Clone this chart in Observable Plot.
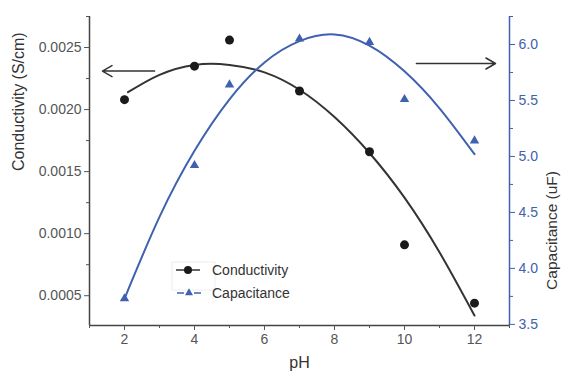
<!DOCTYPE html>
<html><head><meta charset="utf-8">
<script src="https://cdn.jsdelivr.net/npm/d3@7"></script>
<script src="https://cdn.jsdelivr.net/npm/@observablehq/plot@0.6"></script>
<style>
body{margin:0;background:#fff;}
#wrap{position:relative;width:561px;height:375px;font-family:"Liberation Sans",Arial,sans-serif;}
#wrap svg{position:absolute;left:0;top:0;}
</style></head><body><div id="wrap"></div>
<script>
// measured data
const pH = [2, 4, 5, 7, 9, 10, 12];
const conductivity = [0.00208, 0.00235, 0.00256, 0.00215, 0.00166, 0.00091, 0.00044];
const capacitance = [3.73, 4.92, 5.64, 6.05, 6.02, 5.51, 5.14];
// fitted curves
const condFitPH = [2.1, 3, 4, 5, 6, 7, 8, 9, 10, 11, 12];
const condFit = [0.00214, 0.00228, 0.00236, 0.00236, 0.00230, 0.00216, 0.00194, 0.00165, 0.00129, 0.00085, 0.00034];
const capFitPH = [2, 3, 4, 5, 6, 7, 8, 9, 10, 11, 12];
const capFit = [3.73, 4.46, 5.05, 5.51, 5.84, 6.03, 6.09, 5.99, 5.76, 5.43, 5.02];
// axes
const xDomain = [1, 13];
const xTicks = [2, 4, 6, 8, 10, 12];
const xMinor = [1, 3, 5, 7, 9, 11, 13];
const condDomain = [0.00026, 0.00275];
const condTicks = [0.0005, 0.0010, 0.0015, 0.0020, 0.0025];
const condMinor = [0.00075, 0.00125, 0.00175, 0.00225, 0.00275];
const capDomain = [3.49, 6.25];
const capTicks = [3.5, 4.0, 4.5, 5.0, 5.5, 6.0];
const capMinor = [3.75, 4.25, 4.75, 5.25, 5.75, 6.25];
// annotation arrows (data coordinates)
const leftArrow = [{x1: 2.86, x2: 1.37, y: 0.00231}];
const rightArrow = [{x1: 10.34, x2: 12.6, y: 5.83}];
const seriesNames = ["Conductivity", "Capacitance"];

const blue = "#3f61b0";
const dark = "#333";
const font = "'Liberation Sans', Arial, sans-serif";
const common = {
  width: 561, height: 375,
  marginTop: 16, marginBottom: 50, marginLeft: 89, marginRight: 52,
  style: {background: "transparent", fontFamily: font, overflow: "visible"}
};

const p1 = Plot.plot({
  ...common,
  x: {domain: xDomain},
  y: {domain: condDomain},
  marks: [
    Plot.ruleY([condDomain[0]], {stroke: "#444", strokeWidth: 1.5}),
    Plot.ruleX([xDomain[0]], {stroke: "#444", strokeWidth: 1.5}),
    Plot.axisY(condTicks, {anchor: "left", tickSize: 5, tickPadding: 3, tickFormat: d3.format(".4f"), fontSize: 14, color: "#555", label: null}),
    Plot.axisY(condMinor, {anchor: "left", tickSize: 3, tickFormat: () => "", color: "#555", label: null}),
    Plot.axisX(xTicks, {anchor: "bottom", tickSize: 5, tickPadding: 4, fontSize: 14, color: "#555", label: null}),
    Plot.axisX(xMinor, {anchor: "bottom", tickSize: 3, tickFormat: () => "", color: "#555", label: null}),
    Plot.line(condFit, {x: (d, i) => condFitPH[i], y: d => d, stroke: dark, strokeWidth: 2, curve: "natural"}),
    Plot.dot(conductivity, {x: (d, i) => pH[i], y: d => d, r: 4.5, fill: "#1a1a1a", stroke: "none"}),
    Plot.arrow(leftArrow, {x1: "x1", x2: "x2", y1: "y", y2: "y", stroke: dark, strokeWidth: 1.5, headLength: 11}),
    Plot.text(["Conductivity (S/cm)"], {frameAnchor: "left", rotate: -90, dx: -71, fontSize: 16, fill: dark}),
    Plot.text(["pH"], {frameAnchor: "bottom", dy: 42, fontSize: 16, fill: dark})
  ]
});

const p2 = Plot.plot({
  ...common,
  x: {domain: xDomain, axis: null},
  y: {domain: capDomain},
  marks: [
    Plot.ruleX([xDomain[1]], {stroke: blue, strokeWidth: 1.5}),
    Plot.axisY(capTicks, {anchor: "right", tickSize: 5, tickPadding: 4, tickFormat: d3.format(".1f"), fontSize: 14, color: blue, label: null}),
    Plot.axisY(capMinor, {anchor: "right", tickSize: 3, tickFormat: () => "", color: blue, label: null}),
    Plot.line(capFit, {x: (d, i) => capFitPH[i], y: d => d, stroke: blue, strokeWidth: 2, curve: "natural"}),
    Plot.dot(capacitance, {x: (d, i) => pH[i], y: d => d, r: 3.5, symbol: "triangle", fill: blue, stroke: "none"}),
    Plot.arrow(rightArrow, {x1: "x1", x2: "x2", y1: "y", y2: "y", stroke: dark, strokeWidth: 1.5, headLength: 11}),
    Plot.text(["Capacitance (uF)"], {frameAnchor: "right", rotate: -90, dx: 43, fontSize: 15.5, fill: dark})
  ]
});

const wrap = document.getElementById("wrap");
wrap.appendChild(p1);
wrap.appendChild(p2);

// legend
const lg = d3.select(wrap).append("svg").attr("width", 561).attr("height", 375)
  .style("font-family", font);
lg.append("rect").attr("x", 172).attr("y", 262).attr("width", 43).attr("height", 28)
  .attr("fill", "none").attr("stroke", "#eee");
lg.append("line").attr("x1", 176).attr("x2", 200).attr("y1", 270).attr("y2", 270).attr("stroke", dark).attr("stroke-width", 1.5);
lg.append("circle").attr("cx", 188).attr("cy", 270).attr("r", 4).attr("fill", "#1a1a1a");
lg.append("line").attr("x1", 177).attr("x2", 184).attr("y1", 293).attr("y2", 293).attr("stroke", blue).attr("stroke-width", 1.5);
lg.append("line").attr("x1", 194).attr("x2", 201).attr("y1", 293).attr("y2", 293).attr("stroke", blue).attr("stroke-width", 1.5);
lg.append("path").attr("d", d3.symbol(d3.symbolTriangle, 28)()).attr("transform", "translate(189,293)").attr("fill", blue);
seriesNames.forEach((n, i) => {
  lg.append("text").attr("x", 212).attr("y", 270 + i * 23).attr("dy", "0.35em")
    .attr("font-size", 14).attr("fill", dark).text(n);
});
</script></body></html>
